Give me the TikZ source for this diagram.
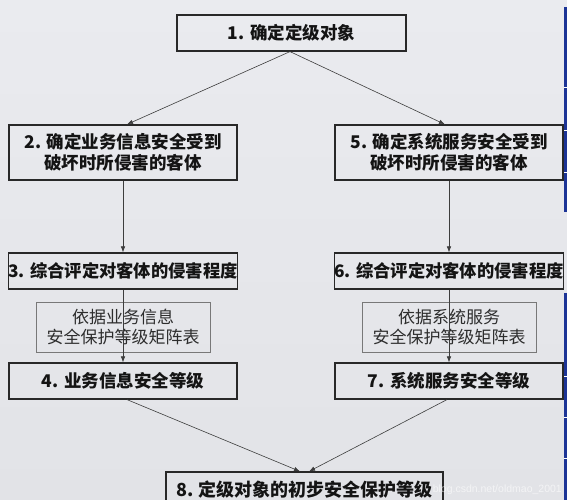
\documentclass[tikz,border=0pt]{standalone}
\usepackage{fontspec}
\usetikzlibrary{arrows.meta}
\setmainfont{Noto Sans CJK SC}
\newfontfamily\wmfont{Liberation Sans}
\definecolor{bgtop}{RGB}{234,235,239}
\definecolor{bgbot}{RGB}{226,227,231}
\definecolor{boxline}{RGB}{40,40,40}
\definecolor{critline}{RGB}{120,120,120}
\definecolor{txt}{RGB}{20,20,20}
\definecolor{crittxt}{RGB}{45,45,45}
\definecolor{edgeblue}{RGB}{28,52,150}
\tikzset{
  mainbox/.style={draw=boxline, line width=1.2pt, rectangle, inner sep=0pt,
    minimum width=228pt, minimum height=36pt, align=center, text=txt,
    font=\fontsize{17.5}{21}\selectfont\bfseries},
  critbox/.style={draw=critline, line width=0.8pt, rectangle, inner sep=0pt,
    minimum width=174pt, minimum height=50pt, align=center, text=crittxt,
    font=\fontsize{17}{20}\selectfont},
  conn/.style={draw=boxline!90, line width=0.6pt, -{Latex[length=6pt,width=4.5pt]}},
}
\begin{document}
\begin{tikzpicture}[x=1pt,y=-1pt]
\useasboundingbox (0,0) rectangle (567,500);
\clip (0,0) rectangle (567,500);
\shade[top color=bgtop, bottom color=bgbot] (0,0) rectangle (567,500);
% blue strip at right edge
\fill[edgeblue] (564,7) rectangle (567,212);
\fill[edgeblue] (564,293) rectangle (567,500);
\foreach \yy in {88,130,172,376,417,458}{
  \draw[white, line width=1pt] (564,\yy) -- (567,\yy);
}
% boxes
\node[mainbox, minimum width=229pt] (b1) at (291.5,33) {1. 确定定级对象};
\node[mainbox, minimum height=55pt] (b2) at (123,152.5) {2. 确定业务信息安全受到\\破坏时所侵害的客体};
\node[mainbox, minimum height=55pt] (b5) at (449,152.5) {5. 确定系统服务安全受到\\破坏时所侵害的客体};
\node[mainbox, font=\fontsize{17.3}{21}\selectfont\bfseries] (b3) at (123,271) {3. 综合评定对客体的侵害程度};
\node[mainbox, font=\fontsize{17.3}{21}\selectfont\bfseries] (b6) at (449,271) {6. 综合评定对客体的侵害程度};
\node[critbox] (c1) at (123,327) {依据业务信息\\安全保护等级矩阵表};
\node[critbox] (c2) at (449,327) {依据系统服务\\安全保护等级矩阵表};
\node[mainbox] (b4) at (123,381) {4. 业务信息安全等级};
\node[mainbox] (b7) at (449,381) {7. 系统服务安全等级};
\node[mainbox, minimum width=277pt, font=\fontsize{18}{21}\selectfont\bfseries] (b8) at (304.5,490) {8. 定级对象的初步安全保护等级};
% connectors
\draw[conn] ([xshift=-1.5pt]b1.south) -- ([xshift=4pt]b2.north);
\draw[conn] ([xshift=-1.5pt]b1.south) -- ([xshift=-4pt]b5.north);
\draw[conn] (b2.south) -- (b3.north);
\draw[conn] (b5.south) -- (b6.north);
\draw[conn] (b3.south) -- (b4.north);
\draw[conn] (b6.south) -- (b7.north);
\draw[conn] ([xshift=4pt]b4.south) -- ([xshift=-4.5pt]b8.north);
\draw[conn] ([xshift=-2pt]b7.south) -- ([xshift=4.5pt]b8.north);
% watermark
\node[anchor=east, text=white, opacity=0.6, inner sep=0pt,
  font=\wmfont\fontsize{10.5}{13}\selectfont] (wm) at (562,490) {blog.csdn.net/oldmao\_2001};
\end{tikzpicture}
\end{document}
